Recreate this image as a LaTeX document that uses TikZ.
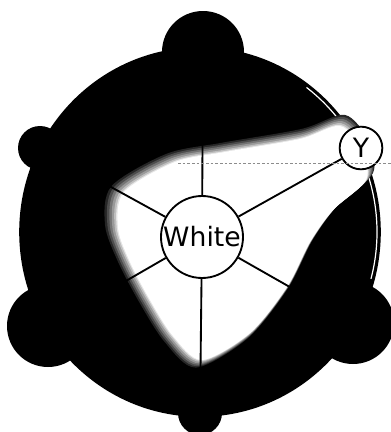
\documentclass[tikz,border=0pt]{standalone}
\usepackage{fontspec}
\newfontfamily\wheelfont{DejaVu Sans}

\begin{document}
\begin{tikzpicture}[
        x=0.75pt, y=-0.75pt,
        bump/.style={circle, fill=black, inner sep=0pt},
        bigbump/.style={bump, minimum size=61.5pt},
        smallbump/.style={bump, minimum size=33pt},
        colornode/.style={
            circle, draw=black, fill=white, line width=1.4pt, inner sep=0pt,
            font=\wheelfont\fontsize{20}{22}\selectfont
        },
        spoke/.style={line width=1.4pt},
        blob/.style={insert path={plot [smooth cycle] coordinates {
            (124,192) (175,162) (225,152) (300,139) (340,126) (362,150)
            (366,180) (333,210) (310,242) (287,287) (250,333) (202,360)
            (173,336) (150,300) (130,262) (118,228)}}},
    ]

    \useasboundingbox (0,0) rectangle (391,432);

    \node (top)       [bigbump]   at (203,52)  {};
    \node (upleft)    [smallbump] at (40,148)  {};
    \node (downleft)  [bigbump]   at (48,326)  {};
    \node (down)      [smallbump] at (200,413) {};
    \node (downright) [bigbump]   at (353,323) {};

    \filldraw [line width=1.2pt] (200,232) ellipse [x radius=180, y radius=184];
    \draw [white, line width=0.9pt] (200,232) ++(-53:177 and 181)
        arc [start angle=-53, end angle=15, x radius=177, y radius=181];

    \foreach \s/\c in {1.08/black!85, 1.065/black!70, 1.05/black!55, 1.035/black!40,
                       1.02/black!25, 1.008/black!10, 1.0/white} {
        \begin{scope}[shift={(280,265)}, scale=\s, shift={(-280,-265)}]
            \fill [\c, blob];
        \end{scope}
    }

    \node (white) [colornode, minimum size=61.5pt] at (202,237) {White};
    \node (y)     [colornode, minimum size=32pt]   at (361,148) {Y};

    \draw [spoke] (white) -- (top);
    \draw [spoke] (white) -- (upleft);
    \draw [spoke] (white) -- (downleft);
    \draw [spoke] (white) -- (down);
    \draw [spoke] (white) -- (downright);
    \draw [spoke] (white) -- (y);

    \coordinate (dashl) at (178,163);
    \coordinate (dashr) at (391,163);
    \draw [black!45, line width=0.6pt, dash pattern=on 2pt off 1.5pt] (dashl) -- (dashr);

\end{tikzpicture}
\end{document}
